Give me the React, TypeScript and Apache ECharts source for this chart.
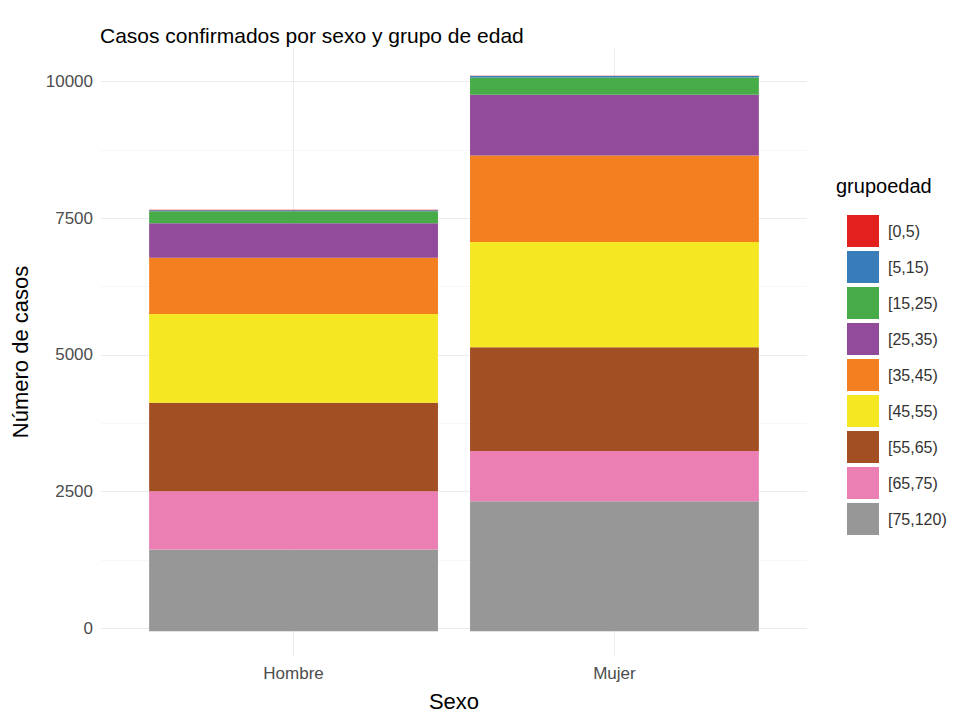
import React, { useEffect, useRef } from "react";
import * as echarts from "echarts";

const categories = ["Hombre", "Mujer"];
const ageGroups = ["[0,5)", "[5,15)", "[15,25)", "[25,35)", "[35,45)", "[45,55)", "[55,65)", "[65,75)", "[75,120)"];
const hombreValues = [7, 20, 216, 626, 1025, 1616, 1608, 1061, 1488];
const mujerValues = [6, 25, 316, 1105, 1571, 1918, 1888, 911, 2367];
const groupColors = ["#E2201E", "#387DBA", "#47AC48", "#924A9B", "#F47F20", "#F6E723", "#A34F24", "#EB7EB3", "#979797"];
const yTicks = [0, 2500, 5000, 7500, 10000];
const yMinorTicks = [1250, 3750, 6250, 8750];

const FONT = "'Liberation Sans', Arial, Helvetica, sans-serif";

export default function App() {
  const ref = useRef<HTMLDivElement>(null);
  useEffect(() => {
    if (!ref.current) return;
    const chart = echarts.init(ref.current, null, { renderer: "svg" });
    const valuesByCat = [hombreValues, mujerValues];
    const totals = valuesByCat.map((vals) => vals.reduce((a, b) => a + b, 0));
    const maxTotal = Math.max(...totals);
    const yMin = -0.05 * maxTotal;
    const yMax = maxTotal * 1.05;
    const gridLeft = 101;
    const gridRight = 154;
    const gridTop = 48;
    const gridBottom = 58;
    const gridWidth = 961 - gridLeft - gridRight;
    const xMin = 0.4;
    const xMax = categories.length + 0.6;
    const unit = gridWidth / (xMax - xMin);
    const barLeft = gridLeft + (1 - 0.5 - xMin) * unit;
    const barRight = 961 - (gridLeft + (categories.length + 0.5 - xMin) * unit);

    const seriesOrder = ageGroups.map((_, i) => i).reverse();
    const series = seriesOrder.map((gi) => ({
      name: ageGroups[gi],
      type: "bar",
      stack: "total",
      xAxisIndex: 1,
      yAxisIndex: 2,
      barWidth: "90%",
      itemStyle: { color: groupColors[gi] },
      data: valuesByCat.map((vals) => vals[gi]),
    }));

    chart.setOption({
      animation: false,
      backgroundColor: "#ffffff",
      textStyle: { fontFamily: FONT },
      title: [
        {
          text: "Casos confirmados por sexo y grupo de edad",
          left: 95,
          top: 20,
          textStyle: { fontFamily: FONT, fontSize: 21, fontWeight: "normal", color: "#000000" },
        },
        {
          text: "grupoedad",
          left: 831,
          top: 171,
          textStyle: { fontFamily: FONT, fontSize: 20, fontWeight: "normal", color: "#000000" },
        },
      ],
      legend: {
        orient: "vertical",
        left: 842,
        top: 210,
        itemWidth: 32,
        itemHeight: 32,
        itemGap: 4,
        icon: "rect",
        data: ageGroups,
        textStyle: { fontFamily: FONT, fontSize: 16, color: "#333333", padding: [0, 0, 0, 4] },
      },
      grid: [
        { left: gridLeft, right: gridRight, top: gridTop, bottom: gridBottom, containLabel: false },
        { left: barLeft, right: barRight, top: gridTop, bottom: gridBottom, containLabel: false },
      ],
      xAxis: [
        {
          type: "value",
          gridIndex: 0,
          min: xMin,
          max: xMax,
          name: "Sexo",
          nameLocation: "middle",
          nameGap: 34,
          nameTextStyle: { fontFamily: FONT, fontSize: 22, color: "#000000" },
          axisLine: { show: false },
          axisTick: { show: false, customValues: categories.map((_, i) => i + 1) },
          axisLabel: {
            customValues: categories.map((_, i) => i + 1),
            formatter: (v: number) => categories[Math.round(v) - 1] ?? "",
            fontFamily: FONT,
            fontSize: 17,
            color: "#4d4d4d",
            margin: 9,
          },
          splitLine: { show: true, lineStyle: { color: "#ebebeb", width: 1 } },
        },
        {
          type: "category",
          gridIndex: 1,
          data: categories,
          show: false,
          axisLine: { show: false },
          axisTick: { show: false },
          axisLabel: { show: false },
          splitLine: { show: false },
        },
      ],
      yAxis: [
        {
          type: "value",
          gridIndex: 0,
          min: yMin,
          max: yMax,
          name: "Número de casos",
          nameLocation: "middle",
          nameGap: 70,
          nameTextStyle: { fontFamily: FONT, fontSize: 22, color: "#000000" },
          axisLine: { show: false },
          axisTick: { show: false, customValues: yTicks },
          axisLabel: {
            customValues: yTicks,
            formatter: (v: number) => String(v),
            fontFamily: FONT,
            fontSize: 17,
            color: "#4d4d4d",
            margin: 8,
          },
          splitLine: { show: true, lineStyle: { color: "#ebebeb", width: 1 } },
        },
        {
          type: "value",
          gridIndex: 0,
          min: yMin,
          max: yMax,
          position: "left",
          axisLine: { show: false },
          axisTick: { show: false, customValues: yMinorTicks },
          axisLabel: { show: false, customValues: yMinorTicks },
          splitLine: { show: true, lineStyle: { color: "#f2f2f2", width: 0.6 } },
        },
        {
          type: "value",
          gridIndex: 1,
          min: yMin,
          max: yMax,
          show: false,
          axisLine: { show: false },
          axisTick: { show: false },
          axisLabel: { show: false },
          splitLine: { show: false },
        },
      ],
      series,
    });
    return () => chart.dispose();
  }, []);
  return <div ref={ref} style={{ width: 961, height: 717, position: "absolute", left: 0, top: 0 }} />;
}
